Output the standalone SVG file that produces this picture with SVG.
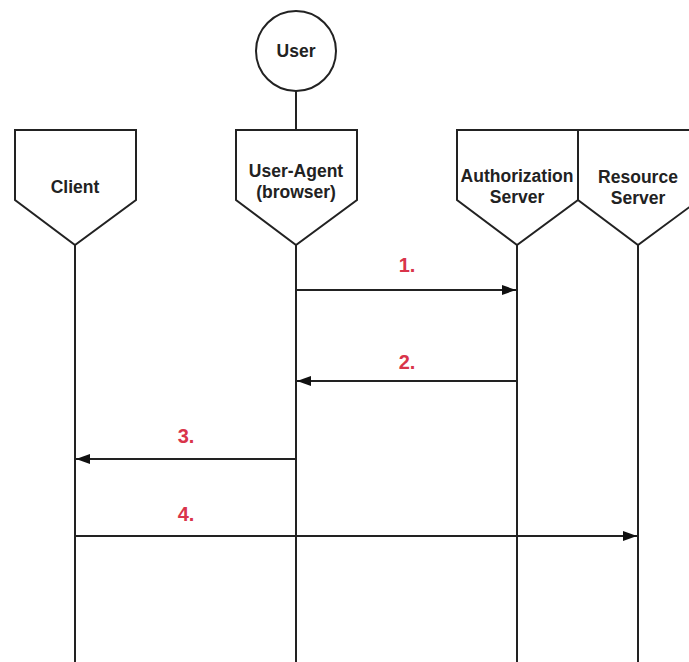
<svg xmlns="http://www.w3.org/2000/svg" width="689" height="662" viewBox="0 0 689 662">
  <style>
    .shape { fill: #fff; stroke: #222; stroke-width: 2; }
    .life { stroke: #222; stroke-width: 2; fill: none; }
    .msg { stroke: #222; stroke-width: 2; fill: none; marker-end: url(#head); }
    .name { font-family: "Liberation Sans", Arial, sans-serif; font-weight: bold; font-size: 17.5px; fill: #222; text-anchor: middle; }
    .step { font-family: "Liberation Sans", Arial, sans-serif; font-weight: bold; font-size: 20px; fill: #d9344a; text-anchor: middle; }
  </style>
  <defs>
    <marker id="head" viewBox="0 0 14 10" refX="14" refY="5" markerWidth="14" markerHeight="10" markerUnits="userSpaceOnUse" orient="auto">
      <path d="M0,0 L14,5 L0,10 Z" fill="#111"/>
    </marker>
  </defs>
  <rect width="689" height="662" fill="#fff"/>

  <!-- lifelines -->
  <g id="lifelines">
    <line class="life" x1="75" y1="245" x2="75" y2="662"/>
    <line class="life" x1="296" y1="91" x2="296" y2="130"/>
    <line class="life" x1="296" y1="245" x2="296" y2="662"/>
    <line class="life" x1="517" y1="245" x2="517" y2="662"/>
    <line class="life" x1="638" y1="245" x2="638" y2="662"/>
  </g>

  <g id="user">
    <circle class="shape" cx="296" cy="51" r="40"/>
    <text class="name" x="296" y="57">User</text>
  </g>

  <g id="client">
    <path class="shape" d="M15,130 H136 V200 L75,245 L15,200 Z"/>
    <text class="name" x="75" y="193">Client</text>
  </g>

  <g id="user-agent">
    <path class="shape" d="M236,130 H357 V200 L296,245 L236,200 Z"/>
    <text class="name" x="296" y="177">User-Agent</text>
    <text class="name" x="296" y="198">(browser)</text>
  </g>

  <g id="authorization-server">
    <path class="shape" d="M457,130 H578 V200 L517,245 L457,200 Z"/>
    <text class="name" x="517" y="182">Authorization</text>
    <text class="name" x="517" y="203">Server</text>
  </g>

  <g id="resource-server">
    <path class="shape" d="M578,130 H699 V200 L638,245 L578,200 Z"/>
    <text class="name" x="638" y="183">Resource</text>
    <text class="name" x="638" y="204">Server</text>
  </g>

  <!-- messages -->
  <g id="connectors">
    <line class="msg" x1="296" y1="290" x2="516" y2="290"/>
    <line class="msg" x1="517" y1="381" x2="297" y2="381"/>
    <line class="msg" x1="296" y1="459" x2="76" y2="459"/>
    <line class="msg" x1="75" y1="536" x2="637" y2="536"/>
    <text class="step" x="407" y="272">1.</text>
    <text class="step" x="407" y="369">2.</text>
    <text class="step" x="186" y="443">3.</text>
    <text class="step" x="186" y="521">4.</text>
  </g>
</svg>
